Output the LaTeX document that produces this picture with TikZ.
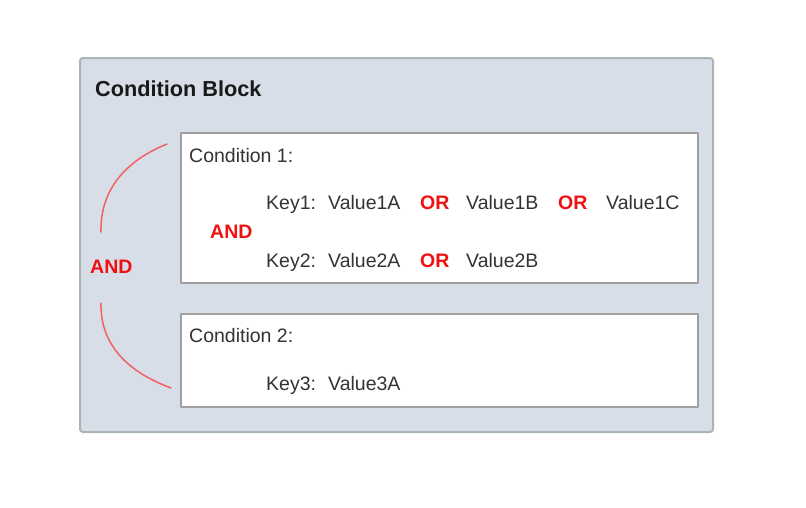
\documentclass[tikz,border=0pt]{standalone}
\usepackage{fontspec}
\setmainfont{Liberation Sans}
\usepackage{tikz}
\definecolor{blockfill}{HTML}{D7DEE8}
\definecolor{blockline}{HTML}{A9B5B2}
\definecolor{condline}{HTML}{A0A0A0}
\definecolor{arcred}{HTML}{F26262}
\definecolor{opred}{HTML}{F01010}
\definecolor{txtgray}{HTML}{333333}

\begin{document}
\begin{tikzpicture}[line cap=round,line join=round,x=1pt,y=-1pt,
  txt/.style={anchor=base west,inner sep=0pt,text=txtgray,font=\fontsize{19.5}{22}\selectfont},
  op/.style={anchor=base west,inner sep=0pt,text=opred,font=\fontsize{19.5}{22}\selectfont\bfseries},
  condbox/.style={draw=condline,fill=white,line width=1.4pt}]
\useasboundingbox (0,0) rectangle (806,507);
\draw[fill=blockfill,draw=blockline,line width=2pt,rounded corners=3pt] (80,58) rectangle (713,432);
\node[anchor=base west,inner sep=0pt,text=black!90,font=\fontsize{21.7}{25}\selectfont\bfseries] (title) at (95,96) {Condition Block};
\draw[condbox] (181,133) rectangle (698,283);
\draw[condbox] (181,314) rectangle (698,407);
\node[txt] (cond1) at (189,162) {Condition 1:};
\node[txt] (key1) at (266,209) {Key1:};
\node[txt] (val1a) at (328,209) {Value1A};
\node[op] (or1a) at (420,209) {OR};
\node[txt] (val1b) at (466,209) {Value1B};
\node[op] (or1b) at (558,209) {OR};
\node[txt] (val1c) at (606,209) {Value1C};
\node[op] (and1) at (210,238) {AND};
\node[txt] (key2) at (266,267) {Key2:};
\node[txt] (val2a) at (328,267) {Value2A};
\node[op] (or2) at (420,267) {OR};
\node[txt] (val2b) at (466,267) {Value2B};
\node[txt] (cond2) at (189,342) {Condition 2:};
\node[txt] (key3) at (266,390) {Key3:};
\node[txt] (val3a) at (328,390) {Value3A};
\node[op] (andall) at (90,273) {AND};
\coordinate (arcatop) at (167,144);
\coordinate (arcabot) at (101,232);
\coordinate (arcbtop) at (101,303);
\coordinate (arcbbot) at (171,388);
\draw[arcred,line width=1.5pt] (arcatop) .. controls (120,163) and (100,195) .. (arcabot);
\draw[arcred,line width=1.5pt] (arcbtop) .. controls (100,345) and (128,372) .. (arcbbot);
\end{tikzpicture}
\end{document}
